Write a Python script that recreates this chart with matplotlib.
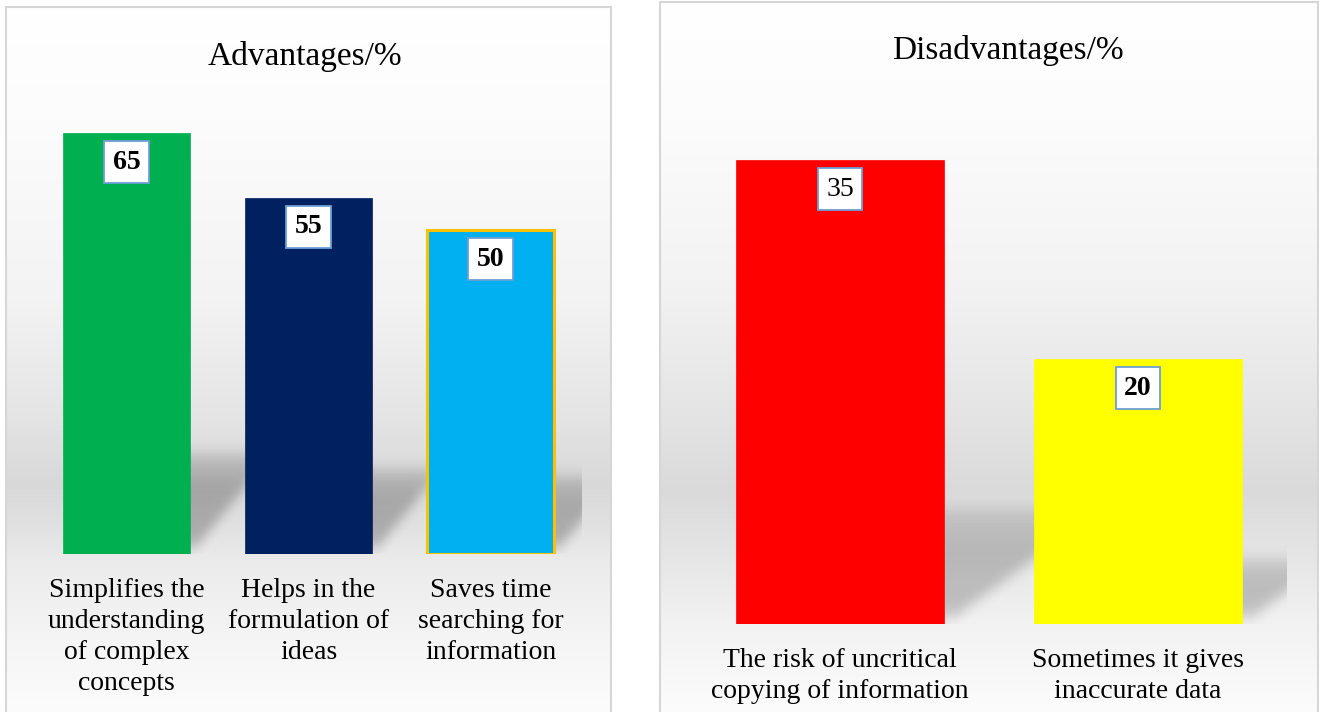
import numpy as np
import matplotlib.pyplot as plt
from matplotlib.patches import Rectangle

# Advantages panel
adv_labels = ["Simplifies the\nunderstanding\nof complex\nconcepts",
              "Helps in the\nformulation of\nideas",
              "Saves time\nsearching for\ninformation"]
adv_values = [65, 55, 50]
adv_colors = ["#00b050", "#002060", "#00b0f0"]
adv_edges = ["#00b050", "#002060", "#ffc000"]
adv_bold = [True, True, True]

# Disadvantages panel
dis_labels = ["The risk of uncritical\ncopying of information",
              "Sometimes it gives\ninaccurate data"]
dis_values = [35, 20]
dis_colors = ["#ff0000", "#ffff00"]
dis_edges = ["#ff0000", "#ffff00"]
dis_bold = [False, True]

W, H = 1319, 712
plt.rcParams['font.family'] = ['Liberation Serif', 'DejaVu Serif']
fig = plt.figure(figsize=(W / 100, H / 100), dpi=100)


def px_axes(x0, y0, x1, y1, **kw):
    # box in pixels, y measured from the top
    return fig.add_axes([x0 / W, 1 - y1 / H, (x1 - x0) / W, (y1 - y0) / H], **kw)


def panel_bg(x0, y0, x1, stops_y, stops_v):
    bg = px_axes(x0, y0, x1, H, zorder=0)
    rows = np.arange(y0, H) + 0.5
    vals = np.interp(rows, stops_y, stops_v) / 255
    img = np.repeat(vals[:, None], int(x1 - x0), axis=1)
    bg.imshow(np.dstack([img, img, img]), aspect='auto',
              extent=(0, 1, 0, 1), interpolation='nearest')
    bg.set_axis_off()
    fig.patches.append(Rectangle((x0 / W, -0.05), (x1 - x0) / W, 1.05 - y0 / H,
                                 transform=fig.transFigure, fill=False,
                                 edgecolor='#d6d6d6', linewidth=1.5, zorder=10))


def blur(m, sx, sy):
    def kern(s):
        t = np.arange(-3 * int(s) - 1, 3 * int(s) + 2)
        k = np.exp(-0.5 * (t / s) ** 2)
        return k / k.sum()
    kx, ky = kern(sx), kern(sy)
    m = np.array([np.convolve(r, kx, 'same') for r in m])
    m = np.array([np.convolve(c, ky, 'same') for c in m.T]).T
    return m


def shadow(ax, vals, width, frac, k, ppx, ppu, xlim, alpha):
    top = max(vals) * frac * 1.4
    margin = 40
    nx = int((xlim[1] - xlim[0]) * ppx) + 2 * margin
    ny = int(top * ppu) + margin
    xs = xlim[0] + (np.arange(nx) - margin + 0.5) / ppx
    ys = (np.arange(ny) + 0.5) / ppu
    X, Y = np.meshgrid(xs, ys)
    m = np.zeros_like(X)
    lift = 8 / ppu
    for i, v in enumerate(vals):
        hs = v * frac
        inside = ((Y >= lift) & (Y <= hs) &
                  (X >= i - width / 2 + k * Y) & (X <= i + width / 2 + k * Y))
        fade = np.clip((hs - Y) / (0.35 * hs), 0, 1)
        m = np.maximum(m, inside * (0.55 + 0.45 * fade))
    m = blur(m, 4, 7)
    m = m[:ny - margin, margin:nx - margin]
    rgba = np.zeros(m.shape + (4,))
    rgba[..., 3] = m * alpha
    ax.imshow(rgba, extent=(xlim[0], xlim[1], 0, (ny - margin) / ppu),
              origin='lower', aspect='auto', zorder=1, interpolation='bilinear')


def bar_panel(box, labels, values, colors, edges, bold, ymax, frac, k, alpha):
    x0, base, x1 = box
    n = len(values)
    ppx = (x1 - x0) / n
    ppu = (base - 100) / ymax
    ax = px_axes(x0, base - ymax * ppu, x1, base, zorder=2)
    ax.set_facecolor('none')
    xlim = (-0.5, n - 0.5)
    pos = np.arange(n)
    shadow(ax, values, 0.7, frac, k, ppx, ppu, xlim, alpha)
    lws = [2.2 if e != c else 0.5 for e, c in zip(edges, colors)]
    ax.bar(pos, values, width=0.7, color=colors, edgecolor=edges,
           linewidth=lws, zorder=3)
    for i, v in enumerate(values):
        ax.annotate(str(v), (i, v), xytext=(0, -21), textcoords='offset points',
                    ha='center', va='center', fontsize=20,
                    fontweight='bold' if bold[i] else 'normal',
                    bbox=dict(boxstyle='square,pad=0.3', fc='white',
                              ec='#6d9fd6', lw=1.3), zorder=5)
    ax.set_xlim(*xlim)
    ax.set_ylim(0, ymax)
    ax.set_xticks(pos)
    ax.set_xticklabels(labels, fontsize=20, linespacing=1.33)
    ax.tick_params(axis='x', length=0, pad=17)
    ax.set_yticks([])
    for s in ax.spines.values():
        s.set_visible(False)
    return ax


panel_bg(6, 7, 611,
         [7, 120, 300, 420, 485, 530, 560, 640, 712],
         [255, 252, 243, 228, 216, 226, 235, 245, 252])
panel_bg(660, 2, 1318,
         [2, 120, 280, 400, 490, 560, 624, 712],
         [255, 252, 243, 230, 218, 230, 242, 252])

# left: axes from 35.5 to 581.5 px, baseline 554 px, 65 -> 421 px tall
bar_panel((35.5, 554, 581.5), adv_labels, adv_values, adv_colors, adv_edges,
          adv_bold, 454 / (421 / 65), 0.24, 0.0288, 0.24)
# right: axes from 691.5 to 1286.5 px, baseline 624 px, 35 -> 464 px tall
bar_panel((691.5, 624, 1286.5), dis_labels, dis_values, dis_colors, dis_edges,
          dis_bold, 524 / (464 / 35), 0.25, 0.061, 0.2)

fig.text(304.5 / W, 1 - 57 / H, "Advantages/%", ha='center', va='center', fontsize=24)
fig.text(1008 / W, 1 - 51 / H, "Disadvantages/%", ha='center', va='center', fontsize=24)

fig.savefig("out.png", dpi=100)
